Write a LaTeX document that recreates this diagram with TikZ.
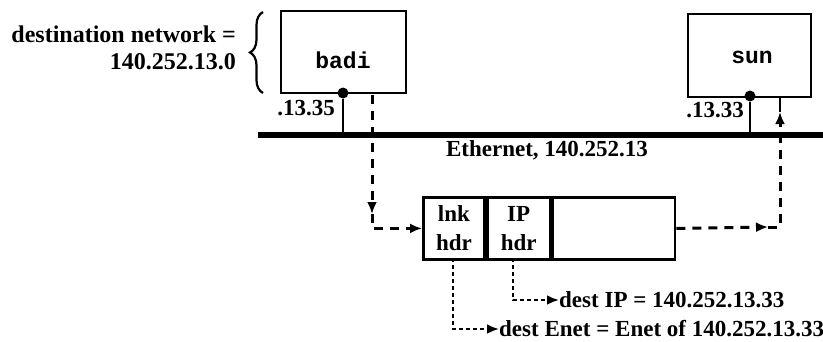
\documentclass[tikz,border=0pt]{standalone}
\usepackage{fontspec}
\setmainfont{Liberation Serif}
\setmonofont{Liberation Mono}
\usetikzlibrary{arrows.meta,decorations.pathreplacing}
\begin{document}
\begin{tikzpicture}[x=1pt,y=-1pt,
  lbl/.style={font=\bfseries\fontsize{23}{27}\selectfont, inner sep=0pt},
  biglbl/.style={font=\bfseries\fontsize{24}{27}\selectfont, inner sep=0pt},
  hostname/.style={font=\ttfamily\bfseries\fontsize{23}{24}\selectfont, inner sep=0pt},
  hostbox/.style={draw, line width=2.8pt, inner sep=0pt},
  cell/.style={draw, line width=2.8pt, inner sep=0pt, minimum height=62pt, align=center,
    font=\bfseries\fontsize{23}{29}\selectfont, anchor=north west},
  flow/.style={line width=3pt, dash pattern=on 9pt off 7pt},
  fineflow/.style={line width=2.6pt, dash pattern=on 4pt off 3pt},
  tip/.style={-{Latex[length=12pt,width=10pt]}},
  wire/.style={line width=2.8pt},
  dot/.style={circle, fill=black, inner sep=0pt, minimum size=11pt}]
\useasboundingbox (0,0) rectangle (823,341);

% hosts
\node[hostbox, minimum width=125pt, minimum height=82pt] (badi) at (343.5,52) {};
\node[hostname] (badiname) at (343,60) {badi};
\node[hostbox, minimum width=123pt, minimum height=83pt] (sun) at (749.5,55.5) {};
\node[hostname] (sunname) at (752,57) {sun};

% network label and brace
\node[biglbl, anchor=east, align=right] (dest) at (236,48) {destination network =\\140.252.13.0};
\draw[line width=2.2pt, decorate, decoration={brace, amplitude=13pt}] (263,93) -- (263,12);

% ethernet
\coordinate (ethL) at (258,135);
\coordinate (ethR) at (823,135);
\draw[line width=5.5pt] (ethL) -- (ethR);
\node[lbl] (ethlbl) at (547,150) {Ethernet, 140.252.13};

\node[dot] (badidot) at (343,93) {};
\node[dot] (sundot) at (750,96) {};
\draw[wire] (badidot) -- (badidot |- ethL);
\draw[wire] (sundot) -- (sundot |- ethL);
\node[lbl, anchor=east] (badiip) at (335,108) {.13.35};
\node[lbl, anchor=east] (sunip) at (744,110) {.13.33};

% packet
\node[cell, minimum width=61pt] (lnk) at (422,196) {lnk\\hdr};
\node[cell, minimum width=63pt] (ip) at (lnk.north east) {IP\\hdr};
\node[cell, minimum width=122pt] (data) at (ip.north east) {};

% flow from badi to packet
\coordinate (b0) at (372,95);
\coordinate (b1) at (372,214);
\draw[flow, tip] (b0) -- (b1);
\draw[flow, tip] (b1) |- (lnk.west);

% flow from packet to sun
\coordinate (s0) at (768,227);
\coordinate (s1) at (780,112);
\draw[flow, tip] (data.east) -- (s0);
\draw[flow, tip] (s0) -| (s1);
\draw[wire] (s1) -- (s1 |- sun.south);

% header details
\coordinate (e0) at (453,258);
\coordinate (e1) at (453,329);
\coordinate (i0) at (513,258);
\coordinate (i1) at (513,300);
\node[lbl, anchor=west] (enet) at (499,329) {dest Enet = Enet of 140.252.13.33};
\node[lbl, anchor=west] (ipd) at (559,300) {dest IP = 140.252.13.33};
\draw[fineflow, tip] (e0) -- (e1) -- (enet.west);
\draw[fineflow, tip] (i0) -- (i1) -- (ipd.west);
\end{tikzpicture}
\end{document}
